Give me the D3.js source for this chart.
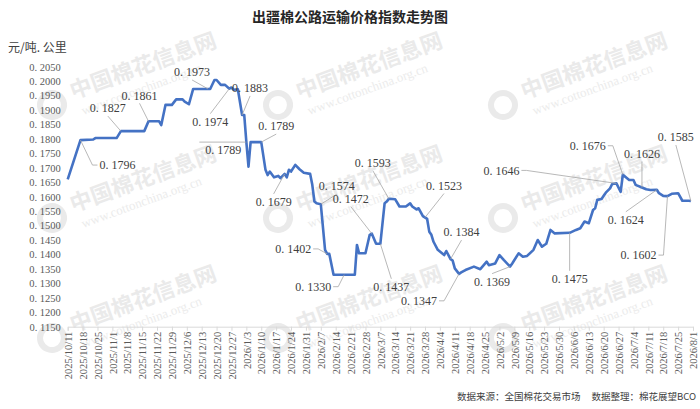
<!DOCTYPE html>
<meta charset="utf-8">
<script src="https://cdnjs.cloudflare.com/ajax/libs/d3/7.8.5/d3.min.js"></script>
<style>
	body { margin: 0; background: #fff; }
	svg { display: block; }
	.num { font-family: "Liberation Serif", "DejaVu Serif", serif; }
	.cjk { font-family: "Noto Sans CJK SC", sans-serif; }
</style>
<svg id="plot" width="700" height="409"></svg>
<script>
	// series
	var dates = [
		"2025-10-11","2025-10-17","2025-10-23","2025-10-24","2025-11-03","2025-11-05","2025-11-16","2025-11-18",
		"2025-11-23","2025-11-24","2025-11-26","2025-11-29","2025-12-01","2025-12-04","2025-12-05","2025-12-07",
		"2025-12-09","2025-12-17","2025-12-19","2025-12-20","2025-12-22","2025-12-24","2025-12-26","2025-12-27",
		"2025-12-28","2025-12-30","2026-01-01","2026-01-02","2026-01-03","2026-01-04","2026-01-05","2026-01-10",
		"2026-01-12","2026-01-13","2026-01-14","2026-01-16","2026-01-18","2026-01-19","2026-01-21","2026-01-22",
		"2026-01-23","2026-01-24","2026-01-26","2026-01-28","2026-01-30","2026-02-02","2026-02-03","2026-02-04",
		"2026-02-05","2026-02-07","2026-02-09","2026-02-10","2026-02-11","2026-02-13","2026-02-23","2026-02-24",
		"2026-02-25","2026-02-28","2026-03-02","2026-03-03","2026-03-05","2026-03-07","2026-03-09","2026-03-10",
		"2026-03-11","2026-03-14","2026-03-16","2026-03-19","2026-03-21","2026-03-22","2026-03-24","2026-03-25",
		"2026-03-27","2026-03-29","2026-03-30","2026-03-31","2026-04-01","2026-04-03","2026-04-05","2026-04-06",
		"2026-04-07","2026-04-09","2026-04-10","2026-04-11","2026-04-13","2026-04-14","2026-04-16","2026-04-20",
		"2026-04-23","2026-04-26","2026-04-27","2026-04-30","2026-05-02","2026-05-04","2026-05-07","2026-05-08",
		"2026-05-11","2026-05-13","2026-05-15","2026-05-18","2026-05-20","2026-05-22","2026-05-24","2026-05-26",
		"2026-05-28","2026-06-04","2026-06-07","2026-06-09","2026-06-11","2026-06-13","2026-06-15","2026-06-16",
		"2026-06-17","2026-06-19","2026-06-20","2026-06-21","2026-06-23","2026-06-24","2026-06-26","2026-06-28",
		"2026-06-29","2026-06-30","2026-07-02","2026-07-04","2026-07-05","2026-07-08","2026-07-10","2026-07-12",
		"2026-07-15","2026-07-16","2026-07-18","2026-07-20","2026-07-22","2026-07-25","2026-07-27","2026-07-30",
		"2026-07-31"
	];
	var values = [
		0.1660,0.1796,0.1798,0.1803,0.1803,0.1827,0.1827,0.1861,
		0.1861,0.1848,0.1918,0.1918,0.1937,0.1937,0.1929,0.1920,
		0.1973,0.1973,0.2004,0.2004,0.1987,0.1987,0.1974,0.1978,
		0.1970,0.1972,0.1883,0.1883,0.1789,0.1704,0.1789,0.1789,
		0.1693,0.1675,0.1687,0.1667,0.1672,0.1664,0.1679,0.1667,
		0.1693,0.1687,0.1710,0.1695,0.1683,0.1679,0.1641,0.1583,
		0.1577,0.1574,0.1416,0.1402,0.1402,0.1330,0.1330,0.1433,
		0.1404,0.1404,0.1468,0.1472,0.1437,0.1437,0.1577,0.1583,
		0.1593,0.1591,0.1566,0.1566,0.1577,0.1566,0.1556,0.1560,
		0.1533,0.1523,0.1479,0.1468,0.1444,0.1416,0.1404,0.1398,
		0.1412,0.1384,0.1379,0.1352,0.1333,0.1338,0.1346,0.1358,
		0.1349,0.1375,0.1363,0.1369,0.1398,0.1381,0.1358,0.1369,
		0.1404,0.1392,0.1395,0.1416,0.1450,0.1427,0.1437,0.1485,
		0.1473,0.1475,0.1485,0.1491,0.1514,0.1508,0.1554,0.1560,
		0.1589,0.1592,0.1603,0.1614,0.1629,0.1644,0.1646,0.1617,
		0.1676,0.1670,0.1658,0.1658,0.1641,0.1632,0.1626,0.1623,
		0.1624,0.1612,0.1603,0.1602,0.1610,0.1612,0.1586,0.1586,
		0.1585
	];

	var xTickLabels = [
		"2025/10/11","2025/10/18","2025/10/25","2025/11/1","2025/11/8","2025/11/15","2025/11/22","2025/11/29",
		"2025/12/6","2025/12/13","2025/12/20","2025/12/27","2026/1/3","2026/1/10","2026/1/17","2026/1/24",
		"2026/1/31","2026/2/7","2026/2/14","2026/2/21","2026/2/28","2026/3/7","2026/3/14","2026/3/21",
		"2026/3/28","2026/4/4","2026/4/11","2026/4/18","2026/4/25","2026/5/2","2026/5/9","2026/5/16",
		"2026/5/23","2026/5/30","2026/6/6","2026/6/13","2026/6/20","2026/6/27","2026/7/4","2026/7/11",
		"2026/7/18","2026/7/25","2026/8/1"
	];
	var yTicks = [0.115,0.120,0.125,0.130,0.135,0.140,0.145,0.150,0.155,0.160,
		0.165,0.170,0.175,0.180,0.185,0.190,0.195,0.200,0.205];

	// data labels
	var annoDates = [
		"2025-10-17","2025-11-05","2025-11-18","2025-12-16","2025-12-26","2026-01-01","2026-01-03",
		"2026-01-10","2026-01-21","2026-02-07","2026-03-03","2026-02-10","2026-02-18","2026-03-07",
		"2026-03-11","2026-03-28","2026-04-09","2026-04-13","2026-05-07","2026-06-04","2026-06-26",
		"2026-06-29","2026-07-08","2026-07-15","2026-07-20","2026-07-31"
	];
	var annoLabels = [
		0.1796,0.1827,0.1861,0.1973,0.1974,0.1883,0.1789,
		0.1789,0.1679,0.1574,0.1472,0.1402,0.1330,0.1437,
		0.1593,0.1523,0.1384,0.1347,0.1369,0.1475,0.1646,
		0.1676,0.1626,0.1624,0.1602,0.1585
	];
	// label placement: offset from the point and which side the leader meets
	var annoLayout = [
		[37,25,"l"],[-13,-23,"b"],[-9,-26,"b"],[-16,-17,"b"],[-19,33,"t"],[8,-27,"b"],[-23,8,"h"],
		[15,-16,"b"],[-11,28,"t"],[16,-18,"b"],[-21,-35,"b"],[-34,-5,"r"],[-31,12,"r"],[11,43,"t"],
		[-16,-36,"b"],[19,-32,"b"],[11,-27,"b"],[-40,27,"r"],[-18,15,"t"],[0,46,"t"],[-115,-13,"r"],
		[-35,-29,"r"],[0,-34,"b"],[-31,30,"t"],[-29,59,"r"],[-15,-64,"b"]
	];

	var parse = d3.timeParse("%Y-%m-%d"),
		parseTick = d3.timeParse("%Y/%m/%d");
	var fmt = function(v){ return d3.format(".4f")(v).replace(".", ". "); };

	var series = dates.map(function(d,i){ return {date: parse(d), value: values[i]}; });
	var tickDates = xTickLabels.map(parseTick);

	var svg = d3.select("#plot");

	var x = d3.scaleTime()
		.domain([tickDates[0], tickDates[tickDates.length-1]])
		.range([67.7, 693]);
	var y = d3.scaleLinear().domain([0.115, 0.205]).range([326.7, 66.7]);

	// watermark
	var wmRows = [105, 218, 338], wmCols = [52, 278, 503];
	wmRows.forEach(function(r){
		wmCols.forEach(function(c){
			var g = svg.append("g").attr("transform", "translate(" + c + "," + r + ") rotate(-20)")
				.style("opacity", 0.55);
			g.append("circle").attr("r", 12).attr("fill", "none")
				.attr("stroke", "#d9d9d9").attr("stroke-width", 6);
			g.append("text").attr("class", "cjk").attr("x", 22).attr("y", 2)
				.attr("font-size", 22).attr("font-weight", "bold").attr("fill", "#d9d9d9")
				.text("中国棉花信息网");
			g.append("text").attr("class", "num").attr("x", 26).attr("y", 20)
				.attr("font-size", 13).attr("fill", "#dcdcdc")
				.text("www.cottonchina.org.cn");
		});
	});

	// title + units
	svg.append("text").attr("class", "cjk")
		.attr("x", 350).attr("y", 22).attr("text-anchor", "middle")
		.attr("font-size", 14).attr("font-weight", "bold").attr("fill", "#262626")
		.text("出疆棉公路运输价格指数走势图");
	svg.append("text").attr("class", "cjk")
		.attr("x", 8).attr("y", 52).attr("font-size", 12).attr("fill", "#404040")
		.text("元/吨. 公里");

	// y axis
	var yAxis = svg.append("g").attr("transform", "translate(67.7,0)")
		.call(d3.axisLeft(y).tickValues(yTicks).tickSize(0).tickPadding(7).tickFormat(fmt));
	yAxis.select(".domain").remove();
	yAxis.selectAll("text").attr("class", "num").attr("font-size", 10.5).attr("fill", "#595959");

	// x axis
	var xAxis = svg.append("g").attr("transform", "translate(0,326.7)")
		.call(d3.axisBottom(x).tickValues(tickDates).tickSizeOuter(0).tickSize(4)
			.tickFormat(function(d,i){ return xTickLabels[i]; }));
	xAxis.select(".domain").attr("stroke", "#d9d9d9");
	xAxis.selectAll(".tick line").attr("stroke", "#d9d9d9");
	xAxis.selectAll("text")
		.attr("class", "num").attr("font-size", 10.5).attr("fill", "#595959")
		.attr("text-anchor", "end")
		.attr("transform", "rotate(-90)")
		.attr("x", -5).attr("y", 0).attr("dy", "0.35em");

	// line
	var line = d3.line().x(function(d){ return x(d.date); }).y(function(d){ return y(d.value); });
	svg.append("path").datum(series)
		.attr("d", line)
		.attr("fill", "none")
		.attr("stroke", "#4472C4")
		.attr("stroke-width", 2.6)
		.attr("stroke-linejoin", "round");

	// value on the line at any date
	var bisect = d3.bisector(function(d){ return d.date; }).left;
	function valueAt(dt){
		var i = bisect(series, dt);
		if (i <= 0) return series[0].value;
		if (i >= series.length) return series[series.length-1].value;
		var a = series[i-1], b = series[i];
		var t = (dt - a.date) / (b.date - a.date);
		return a.value + t * (b.value - a.value);
	}

	// data labels with leader lines
	var annoG = svg.append("g");
	annoDates.forEach(function(d,i){
		var dt = parse(d),
			px = x(dt), py = y(valueAt(dt)),
			lay = annoLayout[i],
			cx = px + lay[0], cy = py + lay[1];
		var t = annoG.append("text").attr("class", "num")
			.attr("x", cx).attr("y", cy).attr("dy", "0.35em")
			.attr("text-anchor", "middle").attr("font-size", 12).attr("fill", "#404040")
			.text(fmt(annoLabels[i]));
		var hw = t.node().getComputedTextLength()/2 + 2,
			left = cx - hw, right = cx + hw, top = cy - 8, bottom = cy + 8;
		var pts;
		if (lay[2] === "l") pts = [[px,py],[left-5,cy],[left,cy]];
		else if (lay[2] === "r") pts = [[px,py],[right+5,cy],[right,cy]];
		else if (lay[2] === "t") pts = [[px,py],[cx,top]];
		else if (lay[2] === "b") pts = [[px,py],[cx,bottom]];
		else pts = [[px,py],[left-4,py]];
		annoG.insert("path", "text")
			.attr("d", d3.line()(pts))
			.attr("fill", "none").attr("stroke", "#a6a6a6").attr("stroke-width", 0.8);
	});

	// source
	svg.append("text").attr("class", "cjk")
		.attr("x", 457).attr("y", 400).attr("font-size", 9.5).attr("fill", "#404040")
		.text("数据来源：全国棉花交易市场");
	svg.append("text").attr("class", "cjk")
		.attr("x", 696).attr("y", 400).attr("text-anchor", "end").attr("font-size", 9.5).attr("fill", "#404040")
		.text("数据整理：棉花展望BCO");
</script>
